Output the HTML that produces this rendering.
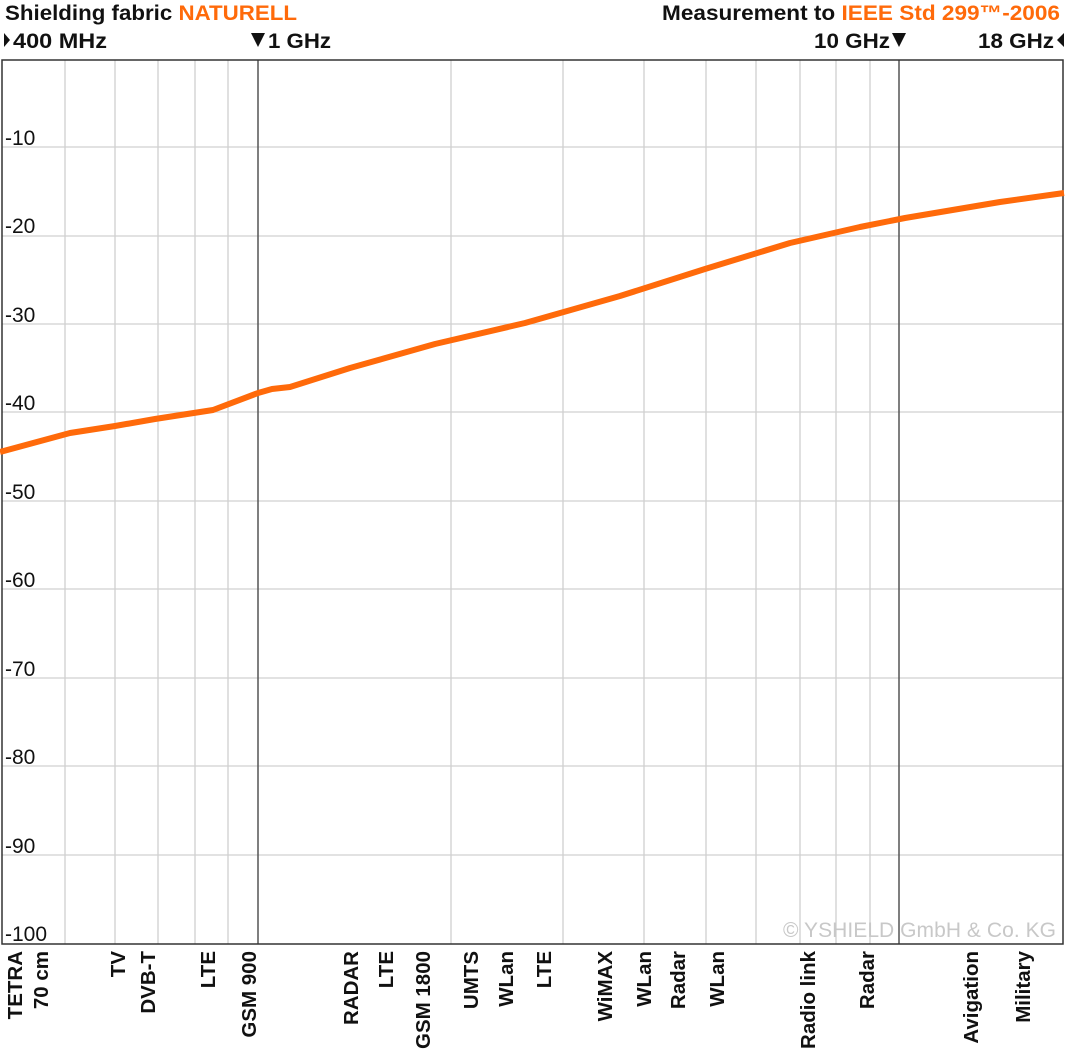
<!DOCTYPE html>
<html><head><meta charset="utf-8"><style>
html,body{margin:0;padding:0;background:#fff;}
svg{display:block;}
text{font-family:"Liberation Sans",sans-serif;}
.b{font-weight:bold;}
</style></head><body>
<svg width="1065" height="1062" viewBox="0 0 1065 1062" xmlns="http://www.w3.org/2000/svg">
<rect width="1065" height="1062" fill="#fff"/>
<g stroke="#d0d0d0" stroke-width="1.3">
<line x1="2" y1="147" x2="1063" y2="147"/><line x1="2" y1="236" x2="1063" y2="236"/>
<line x1="2" y1="324" x2="1063" y2="324"/><line x1="2" y1="412" x2="1063" y2="412"/>
<line x1="2" y1="501" x2="1063" y2="501"/><line x1="2" y1="589" x2="1063" y2="589"/>
<line x1="2" y1="678" x2="1063" y2="678"/><line x1="2" y1="766" x2="1063" y2="766"/>
<line x1="2" y1="855" x2="1063" y2="855"/>
<line x1="65" y1="60" x2="65" y2="944"/><line x1="115" y1="60" x2="115" y2="944"/>
<line x1="158" y1="60" x2="158" y2="944"/><line x1="195" y1="60" x2="195" y2="944"/>
<line x1="228" y1="60" x2="228" y2="944"/><line x1="451" y1="60" x2="451" y2="944"/>
<line x1="563" y1="60" x2="563" y2="944"/><line x1="644" y1="60" x2="644" y2="944"/>
<line x1="706" y1="60" x2="706" y2="944"/><line x1="756" y1="60" x2="756" y2="944"/>
<line x1="800" y1="60" x2="800" y2="944"/><line x1="836" y1="60" x2="836" y2="944"/>
<line x1="870" y1="60" x2="870" y2="944"/>
</g>
<g stroke="#555" stroke-width="1.5">
<line x1="258" y1="60" x2="258" y2="944"/><line x1="899" y1="60" x2="899" y2="944"/>
</g>
<rect x="2" y="60" width="1061" height="884" fill="none" stroke="#333" stroke-width="1.5"/>
<g font-size="21" fill="#111">
<text x="5" y="145">-10</text><text x="5" y="233">-20</text><text x="5" y="322">-30</text>
<text x="5" y="410">-40</text><text x="5" y="499">-50</text><text x="5" y="587">-60</text>
<text x="5" y="676">-70</text><text x="5" y="764">-80</text><text x="5" y="853">-90</text>
<text x="5" y="941">-100</text>
</g>
<text x="1056" y="937" font-size="21" fill="#c8c8c8" text-anchor="end" textLength="273">© YSHIELD GmbH &amp; Co. KG</text>
<polyline fill="none" stroke="#ff6a0a" stroke-width="6" stroke-linejoin="round" points="0,452 70,433 115,426 155,419 213,410 258,393 272,389 290,387 350,368 435,344 525,323 620,296 705,269 790,243 860,227 905,218 1000,202 1064,193"/>
<text x="5" y="20" font-size="21" class="b" fill="#111" textLength="292" lengthAdjust="spacingAndGlyphs">Shielding fabric <tspan fill="#ff6a0a">NATURELL</tspan></text>
<text x="662" y="20" font-size="21" class="b" fill="#111" textLength="398" lengthAdjust="spacingAndGlyphs">Measurement to <tspan fill="#ff6a0a">IEEE Std 299™-2006</tspan></text>
<g font-size="21" class="b" fill="#111">
<polygon points="4,33 10,40 4,47"/>
<text x="13" y="48" textLength="94" lengthAdjust="spacingAndGlyphs">400 MHz</text>
<polygon points="251,33 265,33 258,47"/>
<text x="268" y="48" textLength="63" lengthAdjust="spacingAndGlyphs">1 GHz</text>
<text x="814" y="48" textLength="76" lengthAdjust="spacingAndGlyphs">10 GHz</text>
<polygon points="892,33 906,33 899,47"/>
<text x="978" y="48" textLength="76" lengthAdjust="spacingAndGlyphs">18 GHz</text>
<polygon points="1064,33 1057,40 1064,47"/>
</g>
<g font-size="20.5" class="b" fill="#111" text-anchor="end">
<text transform="translate(22,951) rotate(-90)">TETRA</text>
<text transform="translate(48,951) rotate(-90)">70 cm</text>
<text transform="translate(125,951) rotate(-90)">TV</text>
<text transform="translate(155,951) rotate(-90)">DVB-T</text>
<text transform="translate(215,951) rotate(-90)">LTE</text>
<text transform="translate(256,951) rotate(-90)">GSM 900</text>
<text transform="translate(358,951) rotate(-90)">RADAR</text>
<text transform="translate(393,951) rotate(-90)">LTE</text>
<text transform="translate(430,951) rotate(-90)">GSM 1800</text>
<text transform="translate(478,951) rotate(-90)">UMTS</text>
<text transform="translate(513,951) rotate(-90)">WLan</text>
<text transform="translate(551,951) rotate(-90)">LTE</text>
<text transform="translate(612,951) rotate(-90)">WiMAX</text>
<text transform="translate(651,951) rotate(-90)">WLan</text>
<text transform="translate(685,951) rotate(-90)">Radar</text>
<text transform="translate(724,951) rotate(-90)">WLan</text>
<text transform="translate(815,951) rotate(-90)">Radio link</text>
<text transform="translate(874,951) rotate(-90)">Radar</text>
<text transform="translate(978,951) rotate(-90)">Avigation</text>
<text transform="translate(1030,951) rotate(-90)">Military</text>
</g>
</svg>
</body></html>
